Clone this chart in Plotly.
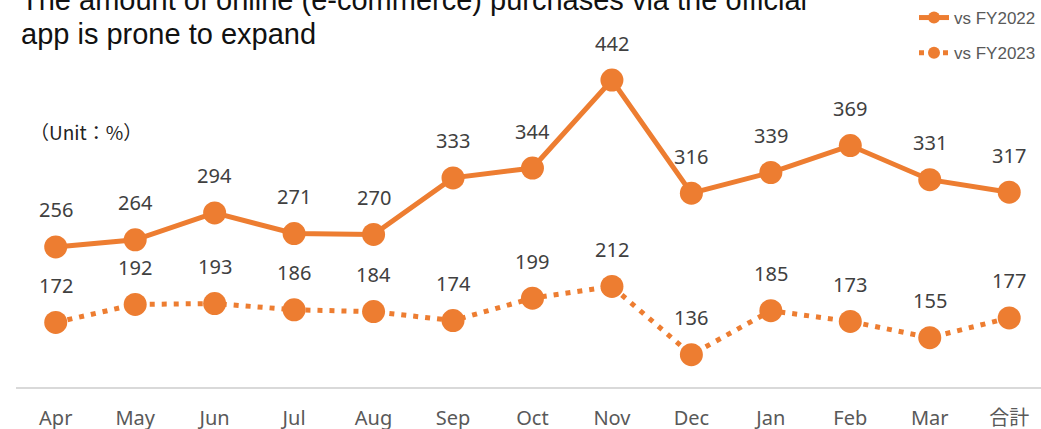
import plotly.graph_objects as go

months = ['Apr', 'May', 'Jun', 'Jul', 'Aug', 'Sep', 'Oct', 'Nov', 'Dec', 'Jan', 'Feb', 'Mar', '合計']
vs_fy2022 = [256, 264, 294, 271, 270, 333, 344, 442, 316, 339, 369, 331, 317]
vs_fy2023 = [172, 192, 193, 186, 184, 174, 199, 212, 136, 185, 173, 155, 177]

orange = '#ED7D31'
label_font = dict(family='Noto Sans, Noto Sans CJK JP', size=20, color='#404040')
title_font = dict(family='Liberation Sans, Arial', size=29, color='#111111')

fig = go.Figure()
fig.add_trace(go.Scatter(
    x=months, y=vs_fy2022, name='vs FY2022', mode='lines+markers', legendgroup='a',
    line=dict(color=orange, width=5),
    marker=dict(color=orange, size=23),
))
fig.add_trace(go.Scatter(
    x=months, y=vs_fy2023, name='vs FY2023', mode='lines+markers', legendgroup='b',
    line=dict(color=orange, width=5, dash='5px,7px'),
    marker=dict(color=orange, size=23),
))

# data labels above the points
annotations = []
for series in (vs_fy2022, vs_fy2023):
    for m, v in zip(months, series):
        annotations.append(dict(x=m, y=v, text=str(v), showarrow=False,
                                yshift=37, font=label_font))

# title (first line is cropped at the top in the original)
annotations.append(dict(xref='paper', yref='paper', x=0.003, y=1.077,
                        xanchor='left', yanchor='middle', showarrow=False,
                        text='The amount of online (e-commerce) purchases via the official',
                        font=title_font))
annotations.append(dict(xref='paper', yref='paper', x=0.003, y=0.983,
                        xanchor='left', yanchor='middle', showarrow=False,
                        text='app is prone to expand', font=title_font))
annotations.append(dict(xref='paper', yref='paper', x=0.012, y=0.713,
                        xanchor='left', yanchor='middle', showarrow=False,
                        text='（Unit：%）',
                        font=dict(family='Noto Sans CJK JP', size=19, color='#222222')))

fig.update_layout(
    width=1041, height=429,
    margin=dict(l=16, r=0, t=28, b=42, autoexpand=False),
    plot_bgcolor='white', paper_bgcolor='white',
    showlegend=True,
    legend=dict(y=1.078, yanchor='top', x=1.0, xanchor='right',
                font=dict(family='Liberation Sans, Arial', size=17, color='#595959'),
                bgcolor='rgba(0,0,0,0)', itemsizing='constant', tracegroupgap=10),
    annotations=annotations,
    xaxis=dict(range=[-0.5, 12.4], showgrid=False, showline=True,
               linecolor='#d9d9d9', linewidth=2, ticks='',
               ticklabelstandoff=12,
               tickfont=dict(family='Noto Sans, Noto Sans CJK JP', size=20, color='#595959')),
    yaxis=dict(range=[100, 500], showgrid=False, showticklabels=False,
               zeroline=False, showline=False),
)

# drop the browser's default 8px body margin so the figure sits at the top-left corner
fig.write_html("out.html", config={'displayModeBar': False},
               post_script="document.body.style.margin = '0';")
